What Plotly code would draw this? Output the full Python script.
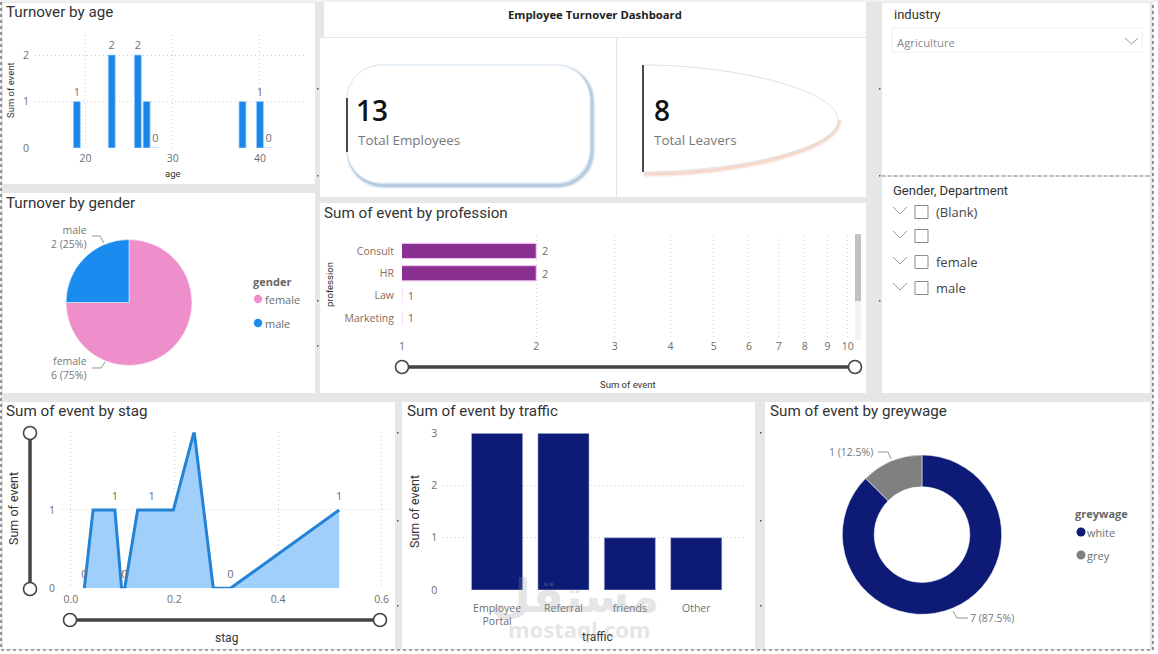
# Employee Turnover Dashboard (rebuilt in plotly)
import plotly.graph_objects as go

W, H = 1158, 654

# data
age = [19, 23, 26, 27, 28, 38, 40, 41]
age_event = [1, 2, 2, 1, 0, 1, 1, 0]
age_text = ['1', '2', '2', '', '0', '', '1', '0']

gender = ['female', 'male']
gender_event = [6, 2]

profession = ['Consult', 'HR', 'Law', 'Marketing']
profession_event = [2, 2, 1, 1]
profession_ticks = [1, 2, 3, 4, 5, 6, 7, 8, 9, 10]

stag = [0.026, 0.043, 0.085, 0.098, 0.104, 0.129, 0.156, 0.198, 0.238, 0.275, 0.308, 0.518]
stag_event = [0, 1, 1, 0, 0, 1, 1, 1, 2, 0, 0, 1]
stag_text = ['0', '', '1', '', '0', '', '1', '', '2', '', '0', '1']

traffic = ['Employee<br>Portal', 'Referral', 'friends', 'Other']
traffic_event = [3, 3, 1, 1]

greywage = ['white', 'grey']
greywage_event = [7, 1]

slicer_rows = ['(Blank)', '', 'female', 'male']

# colours / fonts
BG = '#E6E6E6'
GRID = '#CFCFCF'
TICK = '#6E6E6E'
DARK = '#333333'
DIN = 'Roboto'
SEGOE = 'Open Sans'


def px(x):
    return x / W


def py(y):
    return 1 - y / H


shapes = []
annos = []


def rect(x0, y0, x1, y1, fill='white', line=None, lw=1):
    shapes.append(dict(type='rect', xref='paper', yref='paper', x0=px(x0), x1=px(x1), y0=py(y0), y1=py(y1),
                       fillcolor=fill, line=dict(color=line, width=lw if line else 0), layer='below'))


def seg(points, color='#777777', lw=1, dash=None, opacity=1, layer='above'):
    d = 'M ' + ' L '.join(f'{px(a):.5f} {py(b):.5f}' for a, b in points)
    shapes.append(dict(type='path', xref='paper', yref='paper', path=d, opacity=opacity, layer=layer,
                       line=dict(color=color, width=lw, dash=dash or 'solid')))


def circle(cx, cy, r, fill, line=None, lw=0):
    shapes.append(dict(type='circle', xref='paper', yref='paper', x0=px(cx - r), x1=px(cx + r),
                       y0=py(cy - r), y1=py(cy + r), fillcolor=fill,
                       line=dict(color=line, width=lw)))


def txt(x, y, s, size=11, color=TICK, font=SEGOE, anchor='left', angle=0, opacity=1, weight=None):
    f = dict(size=size, color=color, family=font)
    if weight:
        f['weight'] = weight
    # annotations carry about 2px of padding
    x = x - 2 if anchor == 'left' else x + 2 if anchor == 'right' else x
    annos.append(dict(xref='paper', yref='paper', x=px(x), y=py(y), text=s, showarrow=False, xanchor=anchor,
                      yanchor='middle', textangle=angle, opacity=opacity, align='right' if anchor == 'right' else 'left',
                      font=f))


def slider(x0, y0, x1, y1):
    seg([(x0, y0), (x1, y1)], color='#444444', lw=3.5)
    circle(x0, y0, 6.5, 'white', '#444444', 1.6)
    circle(x1, y1, 6.5, 'white', '#444444', 1.6)


# panels
rect(1, 2, 1153, 650, fill=BG)
rect(3, 3, 315, 184)
rect(3, 193, 315, 393)
rect(324, 2, 866, 37)
rect(320, 38, 616, 197)
rect(617, 38, 866, 197)
rect(320, 203, 866, 393)
rect(882, 3, 1150, 175)
rect(882, 177, 1150, 393)
rect(3, 402, 395, 649)
rect(402, 402, 755, 649)
rect(765, 402, 1150, 649)
rect(0, 0, W, 2, fill='#F1F1F1')

# dotted frame round the page
seg([(1, 2), (1, 650), (1153, 650), (1153, 2)], color='#555555', lw=1.2, dash='dot')
seg([(882, 176), (1150, 176)], color='#888888', lw=1, dash='dot')

# gutter specks
for gx, gy in [(317, 88), (317, 175), (879, 88), (879, 175), (317, 300), (317, 345), (879, 300), (760, 432),
               (760, 520), (760, 605), (397, 432), (397, 520), (397, 605)]:
    rect(gx, gy, gx + 1.5, gy + 1.5, fill='#555555')

# titles
txt(6, 12, 'Turnover by age', 15.2, DARK, DIN)
txt(6, 203, 'Turnover by gender', 15.2, DARK, DIN)
txt(324, 213, 'Sum of event by profession', 15.2, DARK, DIN)
txt(6, 411, 'Sum of event by stag', 15.2, DARK, DIN)
txt(407, 411, 'Sum of event by traffic', 15.2, DARK, DIN)
txt(770, 411, 'Sum of event by greywage', 15.2, DARK, DIN)
txt(595, 15, '<b>Employee Turnover Dashboard</b>', 11.3, '#222222', SEGOE, 'center')

# axis titles
txt(173, 174, 'age', 9.5, DARK, DIN, 'center')
txt(10, 90, 'Sum of event', 9.5, DARK, DIN, 'center', -90)
txt(329, 284, 'profession', 9.5, DARK, DIN, 'center', -90)
txt(628, 384, 'Sum of event', 9.5, DARK, DIN, 'center')
txt(13, 509, 'Sum of event', 12.5, DARK, DIN, 'center', -90)
txt(226, 638, 'stag', 12, DARK, DIN, 'center')
txt(414, 512, 'Sum of event', 12.5, DARK, DIN, 'center', -90)
txt(597, 637, 'traffic', 12, DARK, DIN, 'center')

# KPI cards: shadow strokes first, then the outline
card = ('M 382 65 L 555 65 C 575 65 590 80 590 100 L 590 148 C 590 168 575 183 555 183 '
        'L 382 183 C 362 183 347 168 347 148 L 347 100 C 347 80 362 65 382 65 Z')
leaf = 'M 643 65 C 735 65 838 90 838 120 C 838 150 730 172 643 172'
leaf_low = 'M 838 118 C 838 150 730 172 643 172'


def scaled(path):
    out = []
    vals = path.split()
    i = 0
    while i < len(vals):
        if vals[i].isalpha():
            out.append(vals[i])
            i += 1
        else:
            out.append(f'{px(float(vals[i])):.5f} {py(float(vals[i + 1])):.5f}')
            i += 2
    return ' '.join(out)


def shifted(path, dx, dy):
    vals = path.split()
    out, i = [], 0
    while i < len(vals):
        if vals[i].isalpha():
            out.append(vals[i])
            i += 1
        else:
            out.append(str(float(vals[i]) + dx))
            out.append(str(float(vals[i + 1]) + dy))
            i += 2
    return ' '.join(out)


for width, op in [(7, 0.10), (5, 0.18), (3, 0.32)]:
    shapes.append(dict(type='path', xref='paper', yref='paper', path=scaled(shifted(card, 2, 2.5)), opacity=op,
                       line=dict(color='#6F9CC4', width=width), fillcolor='rgba(0,0,0,0)', layer='below'))
    shapes.append(dict(type='path', xref='paper', yref='paper', path=scaled(shifted(leaf_low, 1, 2)), opacity=op,
                       line=dict(color='#F0B59A', width=width), fillcolor='rgba(0,0,0,0)', layer='below'))
shapes.append(dict(type='path', xref='paper', yref='paper', path=scaled(card), fillcolor='white',
                   line=dict(color='#DCE8F2', width=1), layer='below'))
shapes.append(dict(type='path', xref='paper', yref='paper', path=scaled(leaf), fillcolor='white',
                   line=dict(color='#E4E0DE', width=1), layer='below'))
seg([(347, 98), (347, 152)], color='#111111', lw=1.5)
seg([(643, 65), (643, 172)], color='#111111', lw=1.5)
txt(356, 110, '13', 28, '#111111', weight=600)
txt(358, 140, 'Total Employees', 13.4, '#777777')
txt(654, 110, '8', 28, '#111111', weight=600)
txt(654, 140, 'Total Leavers', 13.4, '#777777')

# industry slicer
txt(894, 15, 'industry', 13, DARK, DIN)
rect(892, 28, 1142, 52, fill='white', line='#F0F0F0')
txt(897, 42, 'Agriculture', 11.3, '#8A8A8A')
seg([(1125, 38), (1131.5, 44), (1138, 38)], color='#999999', lw=1)

# gender slicer
txt(893, 190, 'Gender, Department', 13, DARK, DIN)
for row, row_y in zip(slicer_rows, [212, 236, 262, 288]):
    seg([(893, row_y - 5), (900, row_y + 2), (907, row_y - 5)], color='#999999', lw=1)
    rect(915, row_y - 6.5, 928, row_y + 6.5, fill='white', line='#8C8C8C')
    if row:
        txt(936, row_y, row, 13, '#444444')

# pie legends and leaders
txt(253, 281, '<b>gender</b>', 11, '#666666')
for name, c, ly in zip(gender, ['#EE8FCB', '#1A8CF0'], [299, 323]):
    circle(258, ly, 4.2, c)
    txt(265, ly, name, 11, '#6E6E6E')
total = sum(gender_event)
txt(87, 237, f'{gender[1]}<br>{gender_event[1]} ({gender_event[1] * 100 // total}%)', 10.5, '#777777', anchor='right')
txt(87, 368, f'{gender[0]}<br>{gender_event[0]} ({gender_event[0] * 100 // total}%)', 10.5, '#777777', anchor='right')
seg([(92, 236), (100, 236), (104, 243)], lw=0.8)
seg([(92, 368), (101, 368), (105, 362)], lw=0.8)

txt(1075, 513, '<b>greywage</b>', 11, '#666666')
for name, c, ly in zip(greywage, ['#0D1B77', '#808080'], [532, 555]):
    circle(1081, ly, 4.5, c)
    txt(1087, ly, name, 11, '#6E6E6E')
total = sum(greywage_event)
txt(873, 452, f'{greywage_event[1]} ({greywage_event[1] * 100 / total}%)', 10.5, '#777777', anchor='right')
txt(970, 618, f'{greywage_event[0]} ({greywage_event[0] * 100 / total}%)', 10.5, '#777777')
seg([(878, 452), (888, 452), (891, 459)], lw=0.8)
seg([(953, 611), (957, 618), (968, 618)], lw=0.8)

# scrollbar + sliders
rect(855, 235, 861, 340, fill='#F3F3F3')
rect(855, 234, 861, 301, fill='#C2C2C2')
slider(402, 367, 855, 367)
slider(30, 433, 30, 589)
slider(70, 620, 380, 620)


def xdom(a, b):
    return [px(a), px(b)]


def ydom(top, bottom):
    return [py(bottom), py(top)]


def ax(**kw):
    base = dict(showline=False, zeroline=False, ticks='', showgrid=True, gridcolor=GRID, griddash='1px,3px', gridwidth=1,
                automargin=False, tickfont=dict(size=10.5, color=TICK, family=SEGOE))
    base.update(kw)
    return base


fig = go.Figure()

# ---- age
fig.add_trace(go.Bar(x=age, y=age_event, text=age_text, textposition='outside', cliponaxis=False,
                     marker=dict(color='#1A86E8', line=dict(color='#9FD0FB', width=0.8)), width=0.8,
                     textfont=dict(size=11, color=TICK, family=SEGOE), xaxis='x', yaxis='y'))

# ---- profession (log axis)
fig.add_trace(go.Bar(y=profession, x=profession_event, orientation='h', text=[f'\u00a0{v}' for v in profession_event],
                     textposition='outside', cliponaxis=False, width=0.68,
                     marker=dict(color='#8A3090', line=dict(color='#F2C4F2', width=1)),
                     textfont=dict(size=11, color=TICK, family=SEGOE), xaxis='x2', yaxis='y2'))

# ---- stag
fig.add_trace(go.Scatter(x=stag, y=stag_event, mode='lines+markers+text', text=stag_text,
                         textposition=['top center'] * 8 + ['bottom center'] + ['top center'] * 3,
                         marker=dict(size=10, opacity=0),
                         fill='tozeroy', fillcolor='#A0CFFB', line=dict(color='#2383D6', width=3),
                         textfont=dict(size=11, color=TICK, family=SEGOE), cliponaxis=False, xaxis='x3', yaxis='y3'))

# ---- traffic
fig.add_trace(go.Bar(x=traffic, y=traffic_event, width=0.77, marker=dict(color='#0D1B77', line=dict(color='#B9C0E0', width=0.5)),
                     xaxis='x4', yaxis='y4'))

# ---- pies
fig.add_trace(go.Pie(labels=gender, values=gender_event, sort=False, direction='clockwise', rotation=0, textinfo='none',
                     automargin=False, marker=dict(colors=['#EE8FCB', '#1A8CF0'], line=dict(color='white', width=0.5)),
                     domain=dict(x=xdom(66, 192), y=ydom(239, 366))))
fig.add_trace(go.Pie(labels=greywage, values=greywage_event, sort=False, direction='clockwise', rotation=0, hole=0.6,
                     automargin=False, textinfo='none', marker=dict(colors=['#0D1B77', '#808080'], line=dict(color='white', width=0.5)),
                     domain=dict(x=xdom(842.3, 1001.7), y=ydom(455, 614.3))))

# mostaql watermark
txt(575, 596, '<b>مستقل</b>', 46, '#9A9A9A', 'DejaVu Sans', 'center', opacity=0.25)
txt(579, 629, '<b>mostaql.com</b>', 22, '#9A9A9A', 'Open Sans', 'center', opacity=0.25)

fig.update_layout(
    width=W, height=H, margin=dict(l=0, r=0, t=0, b=0, autoexpand=False), autosize=False, showlegend=False,
    paper_bgcolor='white', plot_bgcolor='rgba(0,0,0,0)', shapes=shapes, annotations=annos,
    xaxis=ax(domain=xdom(35, 307), range=[14.2, 45.4], tickvals=[20, 30, 40], anchor='y', ticklabelstandoff=2),
    yaxis=ax(domain=ydom(35, 148), range=[0, 2.43], tickvals=[0, 1, 2], anchor='x', ticklabelstandoff=5),
    xaxis2=ax(domain=xdom(402, 855), type='log', range=[0, 1.016], tickvals=profession_ticks, anchor='y2',
              ticktext=[str(t) for t in profession_ticks], ticklabelstandoff=-2),
    yaxis2=ax(domain=ydom(236, 340), range=[3.99, -0.67], type='category', anchor='x2', showgrid=False,
              ticklabelstandoff=7, tickfont=dict(size=10.5, color='#8B6B5C', family=SEGOE)),
    xaxis3=ax(domain=xdom(62, 390), range=[-0.017, 0.616], tickvals=[0, 0.2, 0.4, 0.6], tickformat='.1f', anchor='y3',
              ticklabelstandoff=3),
    yaxis3=ax(domain=ydom(432.3, 588.3), range=[0, 1.99], tickvals=[0, 1], anchor='x3', ticklabelstandoff=6),
    xaxis4=ax(domain=xdom(443.3, 746.7), range=[-0.81, 3.76], anchor='y4', showgrid=False, type='category',
              ticklabelstandoff=10),
    yaxis4=ax(domain=ydom(433.3, 590), range=[0, 3], tickvals=[0, 1, 2, 3], anchor='x4', ticklabelstandoff=5),
)

# drop the page margin so the plot sits in the window corner
pin = "document.body.style.margin='0';document.documentElement.style.overflow='hidden';"
fig.write_html('out.html', post_script=pin, config=dict(displayModeBar=False))
